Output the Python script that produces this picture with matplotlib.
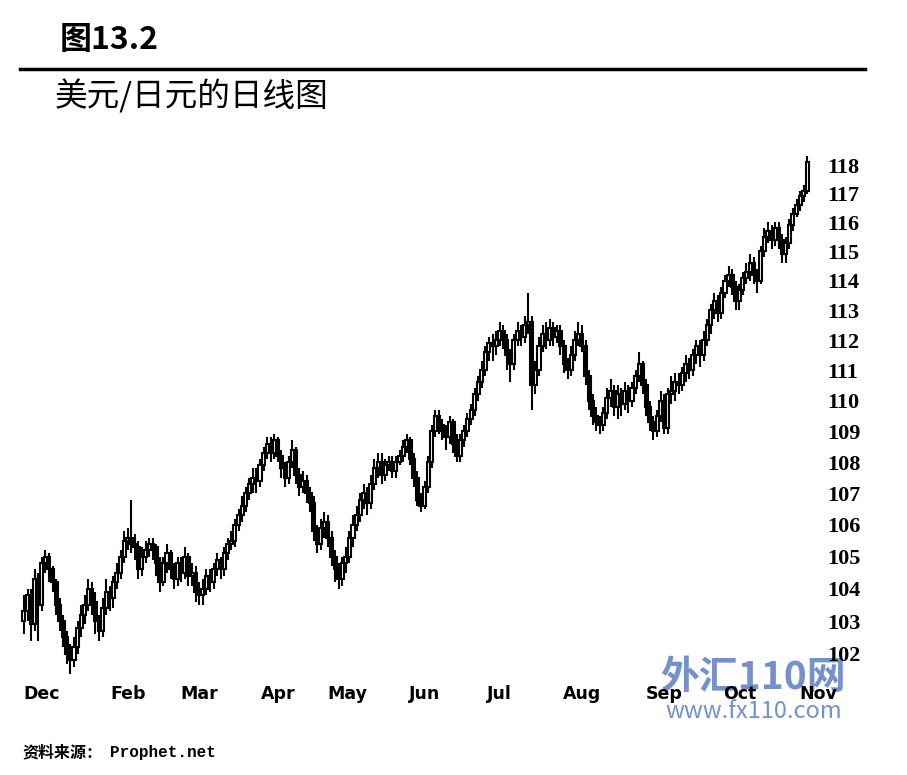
import numpy as np
import matplotlib
matplotlib.use("Agg")
import matplotlib.pyplot as plt
from matplotlib.lines import Line2D
from matplotlib.ticker import FixedLocator, NullLocator

plt.rcParams['font.family'] = ['Noto Sans CJK SC', 'DejaVu Sans']

# ---- data: USD/JPY daily candles ----
first_open = 103.0
closes = [
    103.3, 103.8, 102.9, 104.3, 103.5, 104.8, 105.0, 104.6, 104.2, 103.5,
    103.0, 102.5, 102.0, 101.8, 102.2, 102.8, 103.2, 103.5, 104.0, 103.6,
    103.0, 102.7, 103.4, 103.9, 103.7, 104.2, 104.5, 105.0, 105.5, 105.6,
    105.4, 105.3, 104.6, 105.0, 105.2, 105.4, 105.3, 104.8, 104.2, 104.8,
    105.1, 104.6, 104.3, 104.8, 104.5, 105.0, 104.4, 104.5, 103.9, 103.8,
    104.0, 104.4, 104.2, 104.6, 104.9, 104.6, 105.1, 105.4, 105.5, 106.0,
    106.3, 106.6, 107.0, 107.3, 107.5, 107.4, 107.9, 108.3, 108.6, 108.3,
    108.7, 108.2, 107.8, 107.5, 108.0, 108.4, 107.6, 107.2, 107.4, 107.0,
    106.7, 105.8, 105.4, 105.9, 106.1, 105.6, 105.0, 104.6, 104.3, 104.8,
    105.0, 105.6, 106.0, 106.3, 106.8, 107.0, 106.7, 107.3, 107.8, 108.0,
    107.6, 107.9, 108.0, 107.7, 108.0, 108.2, 108.5, 108.7, 108.1, 107.5,
    106.8, 106.6, 107.2, 108.0, 109.0, 109.5, 109.2, 109.0, 108.8, 109.3,
    108.6, 108.2, 108.7, 109.0, 109.4, 109.7, 110.2, 110.6, 111.0, 111.6,
    111.9, 111.8, 112.0, 112.3, 112.0, 111.5, 111.2, 112.0, 112.3, 112.1,
    112.5, 112.6, 110.5, 111.0, 111.8, 112.2, 112.0, 112.4, 112.1, 112.3,
    111.8, 111.2, 111.0, 111.5, 112.0, 112.2, 111.8, 110.8, 110.0, 109.5,
    109.3, 109.2, 109.6, 110.1, 110.3, 109.8, 110.2, 109.9, 110.3, 110.0,
    110.4, 110.8, 111.2, 110.5, 109.8, 109.3, 109.0, 109.5, 110.0, 109.1,
    110.2, 110.3, 110.6, 110.5, 110.9, 111.2, 111.0, 111.5, 111.8, 111.5,
    112.0, 112.5, 113.0, 113.3, 112.9, 113.6, 114.0, 114.2, 113.8, 113.3,
    113.7, 114.1, 114.3, 114.6, 114.2, 114.0, 115.0, 115.5, 115.7, 115.4,
    115.8, 115.4, 114.9, 115.3, 115.9, 116.3, 116.6, 116.9, 117.1, 118.1,
]
highs = [
    103.8, 104.0, 104.0, 104.6, 104.5, 105.0, 105.2, 105.1, 104.7, 104.3,
    103.7, 103.2, 102.7, 102.3, 102.5, 103.0, 103.5, 103.8, 104.3, 104.2,
    103.9, 103.2, 103.7, 104.3, 104.1, 104.4, 104.8, 105.2, 105.8, 105.9,
    106.8, 105.7, 105.5, 105.3, 105.5, 105.6, 105.6, 105.4, 105.0, 105.0,
    105.4, 105.2, 104.8, 105.0, 105.0, 105.3, 105.1, 104.8, 104.7, 104.2,
    104.3, 104.6, 104.6, 104.8, 105.1, 105.0, 105.3, 105.6, 105.8, 106.2,
    106.5, 106.9, 107.2, 107.5, 107.8, 107.8, 108.1, 108.5, 108.8, 108.8,
    108.9, 108.8, 108.4, 108.0, 108.2, 108.7, 108.5, 107.8, 107.7, 107.6,
    107.2, 106.9, 106.0, 106.2, 106.4, 106.3, 105.8, 105.2, 104.8, 105.0,
    105.3, 105.8, 106.3, 106.6, 107.0, 107.3, 107.2, 107.6, 108.1, 108.3,
    108.3, 108.1, 108.2, 108.2, 108.2, 108.4, 108.7, 108.9, 108.8, 108.3,
    107.7, 107.0, 107.4, 108.2, 109.2, 109.7, 109.7, 109.4, 109.2, 109.5,
    109.4, 108.9, 108.9, 109.2, 109.6, 109.9, 110.4, 110.8, 111.3, 111.8,
    112.1, 112.2, 112.3, 112.6, 112.5, 112.2, 111.7, 112.2, 112.6, 112.5,
    112.8, 113.6, 112.8, 111.3, 112.1, 112.5, 112.6, 112.7, 112.6, 112.5,
    112.5, 112.0, 111.4, 111.8, 112.3, 112.6, 112.5, 112.0, 111.0, 110.2,
    109.8, 109.5, 109.8, 110.4, 110.7, 110.5, 110.5, 110.4, 110.6, 110.5,
    110.6, 111.0, 111.6, 111.3, 110.7, 110.0, 109.5, 109.7, 110.3, 110.2,
    110.4, 110.8, 110.9, 110.9, 111.1, 111.5, 111.4, 111.7, 112.0, 112.0,
    112.3, 112.7, 113.2, 113.6, 113.5, 113.8, 114.2, 114.5, 114.4, 114.0,
    113.9, 114.3, 114.6, 114.9, 114.8, 114.4, 115.2, 115.8, 116.0, 115.9,
    116.0, 116.0, 115.6, 115.5, 116.1, 116.5, 116.8, 117.1, 117.3, 118.3,
]
lows = [
    102.6, 103.0, 102.4, 102.7, 102.4, 103.3, 104.5, 104.2, 103.9, 103.2,
    102.7, 102.2, 101.7, 101.4, 101.6, 102.0, 102.5, 102.9, 103.3, 103.2,
    102.6, 102.4, 102.5, 103.2, 103.3, 103.4, 104.0, 104.3, 104.8, 105.2,
    105.1, 104.9, 104.3, 104.4, 104.8, 105.0, 104.9, 104.4, 103.9, 104.1,
    104.5, 104.3, 104.0, 104.1, 104.2, 104.3, 104.1, 104.1, 103.6, 103.5,
    103.5, 103.8, 103.9, 104.0, 104.4, 104.3, 104.4, 104.9, 105.2, 105.3,
    105.8, 106.1, 106.4, 106.8, 107.0, 107.0, 107.2, 107.7, 108.1, 108.0,
    108.1, 108.0, 107.5, 107.2, 107.3, 107.8, 107.3, 106.9, 107.0, 106.7,
    106.4, 105.5, 105.1, 105.2, 105.6, 105.3, 104.7, 104.2, 104.0, 104.1,
    104.5, 104.8, 105.3, 105.8, 106.1, 106.5, 106.3, 106.5, 107.1, 107.5,
    107.3, 107.4, 107.7, 107.5, 107.5, 107.9, 108.0, 108.3, 107.9, 107.2,
    106.6, 106.4, 106.5, 107.0, 107.8, 108.8, 108.9, 108.7, 108.4, 108.6,
    108.3, 108.0, 108.0, 108.5, 108.8, 109.2, 109.5, 110.0, 110.4, 110.8,
    111.3, 111.3, 111.5, 111.8, 111.7, 111.0, 110.6, 111.0, 111.8, 111.8,
    111.9, 112.2, 109.7, 110.2, 110.8, 111.6, 111.7, 111.8, 111.8, 111.9,
    111.5, 110.9, 110.7, 110.8, 111.3, 111.8, 111.6, 110.5, 109.7, 109.2,
    109.0, 108.9, 109.0, 109.4, 109.8, 109.5, 109.4, 109.5, 109.7, 109.6,
    109.8, 110.2, 110.6, 110.2, 109.5, 109.0, 108.7, 108.8, 109.3, 108.9,
    108.9, 109.9, 110.0, 110.2, 110.3, 110.6, 110.7, 110.8, 111.2, 111.1,
    111.3, 111.8, 112.2, 112.7, 112.6, 112.7, 113.4, 113.8, 113.5, 113.0,
    113.0, 113.5, 113.9, 114.0, 113.9, 113.6, 113.9, 114.8, 115.3, 115.1,
    115.2, 115.1, 114.6, 114.6, 115.1, 115.7, 116.2, 116.4, 116.7, 117.0,
]
months = ['Dec', 'Feb', 'Mar', 'Apr', 'May', 'Jun', 'Jul', 'Aug', 'Sep', 'Oct', 'Nov']
month_day = [5, 29, 49, 71, 90.5, 112, 133, 156, 179, 200, 222]
price_ticks = list(range(102, 119))

closes = np.array(closes)
highs = np.array(highs)
lows = np.array(lows)
opens = np.concatenate([[first_open], closes[:-1]])
days = np.arange(len(closes))

W, H = 907, 775
fig = plt.figure(figsize=(W / 100, H / 100), dpi=100)
ax = fig.add_axes([20 / W, 1 - 677 / H, 798 / W, 529 / H])
ax.patch.set_alpha(0)

# wicks
ax.vlines(days, lows, highs, color='black', linewidth=1.5, zorder=1)
# bodies
up = closes >= opens
bot = np.minimum(opens, closes)
top = np.maximum(opens, closes)
top = np.where(top - bot < 0.1, bot + 0.1, top)
ax.bar(days[up], (top - bot)[up], bottom=bot[up], width=0.85,
       facecolor='white', edgecolor='black', linewidth=1.5, zorder=2)
ax.bar(days[~up], (top - bot)[~up], bottom=bot[~up], width=0.85,
       facecolor='black', edgecolor='black', linewidth=1.5, zorder=2)

ax.set_yscale('log')
ax.set_ylim(101.3, 118.6)
ax.set_xlim(-1.1, 220.6)
ax.yaxis.set_major_locator(FixedLocator(price_ticks))
ax.yaxis.set_minor_locator(NullLocator())
ax.set_yticklabels([str(p) for p in price_ticks], family='Liberation Serif',
                   fontsize=16, fontweight='bold')
ax.yaxis.tick_right()
ax.tick_params(axis='y', length=0, pad=7)
ax.set_xticks(month_day)
ax.set_xticklabels(months, family='DejaVu Sans', fontsize=12.5, fontweight='bold')
ax.tick_params(axis='x', length=0, pad=6)
for s in ax.spines.values():
    s.set_visible(False)

# header / footer
fig.text(60 / W, 1 - 40 / H, '图13.2', fontsize=23, fontweight='bold',
         va='center', ha='left')
fig.add_artist(Line2D([20 / W, 865 / W], [1 - 69 / H, 1 - 69 / H],
                      color='black', linewidth=2.5))
fig.text(55 / W, 1 - 96 / H, '美元/日元的日线图', fontsize=23.5,
         va='center', ha='left')
fig.text(22 / W, 1 - 752 / H, '资料来源：', fontsize=11.5,
         fontweight='bold', va='center', ha='left')
fig.text(110 / W, 1 - 752 / H, 'Prophet.net', fontsize=11.5, family='Liberation Mono',
         fontweight='bold', va='center', ha='left')

# watermark (drawn under the axes)
fig.text(753 / W, 1 - 677 / H, '外汇110网', fontsize=28, fontweight='bold',
         style='italic', color='#7590cc', va='center', ha='center', zorder=-1)
fig.text(754 / W, 1 - 712 / H, 'www.fx110.com', fontsize=17,
         color='#7590cc', va='center', ha='center', zorder=-1)

fig.savefig('out.png', dpi=100)
